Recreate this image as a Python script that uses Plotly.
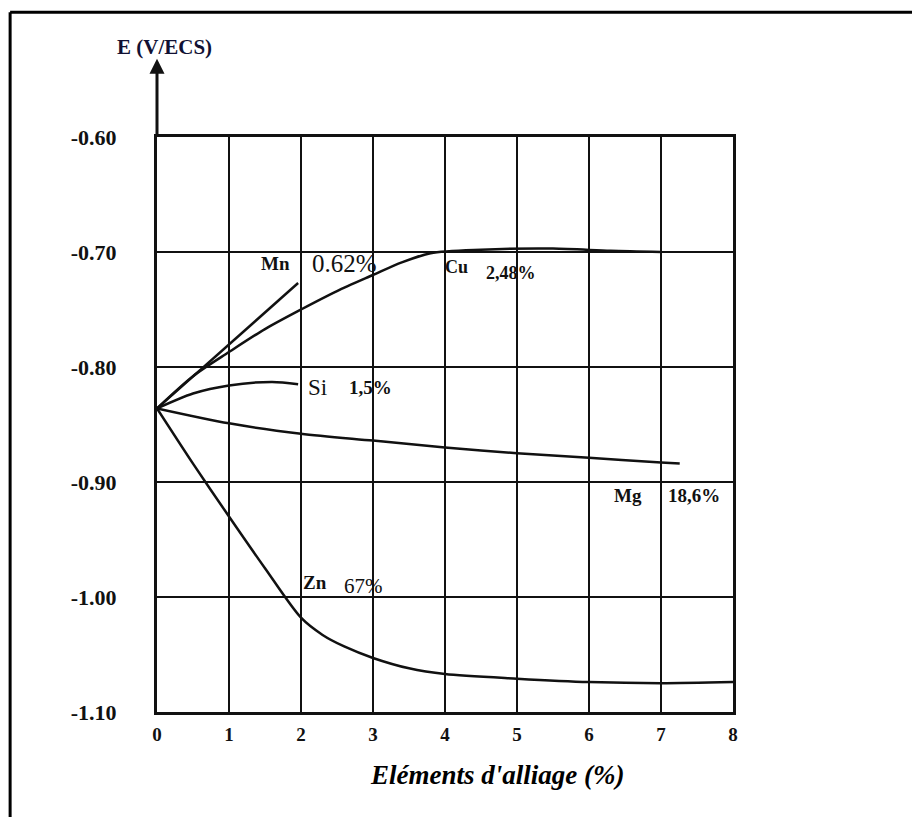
import plotly.graph_objects as go

# ---- data ----
mn_x = [0, 1.96]
mn_y = [-0.836, -0.727]

cu_x = [0, 0.5, 1, 1.5, 2, 2.5, 3, 3.4, 3.8, 4.5, 5.5, 6.3, 7.0]
cu_y = [-0.836, -0.808, -0.787, -0.767, -0.750, -0.734, -0.720, -0.709, -0.701, -0.698, -0.697, -0.699, -0.700]

si_x = [0, 0.5, 1, 1.6, 1.96]
si_y = [-0.836, -0.823, -0.816, -0.813, -0.815]

mg_x = [0, 1, 2, 3, 4, 5, 6, 7, 7.26]
mg_y = [-0.836, -0.849, -0.858, -0.864, -0.870, -0.875, -0.879, -0.883, -0.884]

zn_x = [0, 0.5, 1, 1.5, 2, 2.3, 2.6, 3, 3.5, 4, 5, 6, 7, 8]
zn_y = [-0.836, -0.884, -0.930, -0.975, -1.018, -1.033, -1.043, -1.053, -1.062, -1.067, -1.071, -1.074, -1.075, -1.074]

x_ticks = [0, 1, 2, 3, 4, 5, 6, 7, 8]
x_ticklabels = ["0", "1", "2", "3", "4", "5", "6", "7", "8"]
y_ticks = [-0.60, -0.70, -0.80, -0.90, -1.00, -1.10]
y_ticklabels = ["-0.60", "-0.70", "-0.80", "-0.90", "-1.00", "-1.10"]

# labels: (text, x, y, size, bold)
labels = [
    ("Mn", 1.65, -0.710, 19, True),
    ("0.62%", 2.61, -0.710, 25, False),
    ("Cu", 4.16, -0.713, 18, True),
    ("2,48%", 4.92, -0.718, 18, True),
    ("Si", 2.23, -0.818, 23, False),
    ("1,5%", 2.97, -0.818, 19, True),
    ("Mg", 6.54, -0.912, 19, True),
    ("18,6%", 7.46, -0.912, 19, True),
    ("Zn", 2.20, -0.987, 19, True),
    ("67%", 2.87, -0.990, 21, False),
]

FONT = "Liberation Serif"

fig = go.Figure()
line_style = dict(color="#111111", width=2.5)
fig.add_trace(go.Scatter(x=mn_x, y=mn_y, mode="lines", line=line_style, name="Mn"))
fig.add_trace(go.Scatter(x=cu_x, y=cu_y, mode="lines", line=dict(line_style, shape="spline", smoothing=0.8), name="Cu"))
fig.add_trace(go.Scatter(x=si_x, y=si_y, mode="lines", line=dict(line_style, shape="spline", smoothing=0.8), name="Si"))
fig.add_trace(go.Scatter(x=mg_x, y=mg_y, mode="lines", line=dict(line_style, shape="spline", smoothing=0.8), name="Mg"))
fig.add_trace(go.Scatter(x=zn_x, y=zn_y, mode="lines", line=dict(line_style, shape="spline", smoothing=0.8), name="Zn"))

for text, lx, ly, size, bold in labels:
    fig.add_annotation(
        x=lx, y=ly, xref="x", yref="y",
        text=f"<b>{text}</b>" if bold else text,
        showarrow=False,
        font=dict(family=FONT, size=size, color="#111111"),
    )

# y axis arrow above the plot
fig.add_annotation(
    x=0, y=-0.532, ax=0, ay=-0.60, xref="x", yref="y", axref="x", ayref="y",
    showarrow=True, arrowhead=2, arrowsize=1, arrowwidth=3, arrowcolor="#111111", text="",
)
fig.add_annotation(
    x=0.0125, y=1.156, xref="paper", yref="paper", xanchor="center", yanchor="middle",
    text="<b>E (V/ECS)</b>",
    showarrow=False, font=dict(family=FONT, size=21, color="#111133"),
)
fig.add_annotation(
    x=0.59, y=-0.11, xref="paper", yref="paper", xanchor="center", yanchor="middle",
    text="<b><i>Eléments d'alliage (%)</i></b>",
    showarrow=False, font=dict(family=FONT, size=27, color="#000000"),
)

# outer frame (top and left edges of the figure box)
fig.add_shape(type="line", xref="paper", yref="paper", x0=-0.255, x1=1.32, y0=1.217, y1=1.217,
              line=dict(color="black", width=3))
fig.add_shape(type="line", xref="paper", yref="paper", x0=-0.255, x1=-0.255, y0=1.217, y1=-0.2,
              line=dict(color="black", width=3))

fig.update_xaxes(
    range=[0, 8], tickvals=x_ticks, ticktext=[f"<b>{t}</b>" for t in x_ticklabels],
    showgrid=True, gridcolor="#111111", gridwidth=2,
    showline=True, linecolor="#111111", linewidth=3, mirror=True,
    zeroline=False, ticks="", ticklabelstandoff=3,
    tickfont=dict(family=FONT, size=19, color="#111111"),
)
fig.update_yaxes(
    range=[-1.10, -0.60], tickvals=y_ticks, ticktext=[f"<b>{t}</b>" for t in y_ticklabels],
    showgrid=True, gridcolor="#111111", gridwidth=2,
    showline=True, linecolor="#111111", linewidth=3, mirror=True,
    zeroline=False, ticks="", ticklabelstandoff=33,
    tickfont=dict(family=FONT, size=22, color="#111111"),
)

fig.update_layout(
    width=912, height=817,
    margin=dict(l=157, r=179, t=137, b=105),
    paper_bgcolor="white", plot_bgcolor="white",
    showlegend=False,
)

fig.write_html("out.html", config={"displayModeBar": False},
               post_script="document.body.style.margin='0';")
